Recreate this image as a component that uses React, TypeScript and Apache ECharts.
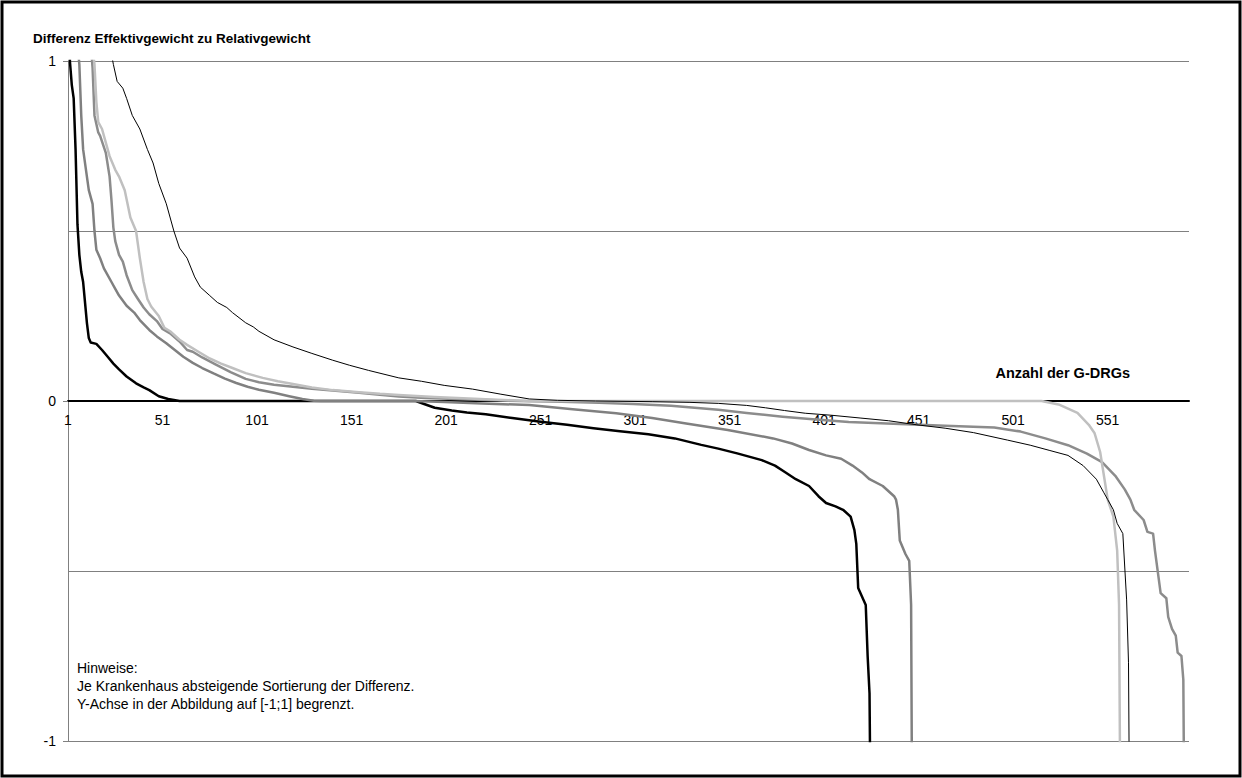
import { useEffect, useRef } from 'react';
import * as echarts from 'echarts';

// Rank of the G-DRG (1-based) on the x axis, difference on the y axis
const RANK_COUNT = 594;
const X_LABEL_STEP = 50;
const Y_MIN = -1;
const Y_MAX = 1;

const TITLE = 'Differenz Effektivgewicht zu Relativgewicht';
const X_NAME = 'Anzahl der G-DRGs';
const NOTES = [
  'Hinweise:',
  'Je Krankenhaus absteigende Sortierung der Differenz.',
  'Y-Achse in der Abbildung auf [-1;1] begrenzt.',
];

// [rank, difference]
const HOSPITAL_A: [number, number][] = [
  [1, 3.0], [2, 1.0], [3, 0.93], [4, 0.89], [5, 0.74], [6, 0.52], [7, 0.43], [8, 0.38],
  [9, 0.35], [10, 0.29], [11, 0.23], [12, 0.185], [13, 0.172], [16, 0.168], [19, 0.15],
  [22, 0.13], [25, 0.11], [28, 0.093], [32, 0.072], [37, 0.052], [41, 0.04], [44, 0.032],
  [49, 0.014], [54, 0.006], [60, 0.0], [185, 0.0], [189, -0.008], [195, -0.02], [204, -0.028],
  [212, -0.034], [222, -0.039], [236, -0.05], [251, -0.061], [265, -0.07], [279, -0.08],
  [293, -0.089], [308, -0.098], [322, -0.11], [336, -0.129], [345, -0.14], [355, -0.154],
  [368, -0.174], [375, -0.19], [380, -0.208], [386, -0.23], [393, -0.25], [398, -0.28],
  [402, -0.3], [407, -0.31], [411, -0.32], [415, -0.34], [417, -0.38], [418, -0.42],
  [419, -0.55], [421, -0.575], [423, -0.6], [424, -0.75], [425, -0.86], [426, -1.5],
];

const HOSPITAL_B: [number, number][] = [
  [1, 4.0], [6, 1.05], [7, 0.99], [8, 0.84], [9, 0.74], [11, 0.66], [12, 0.62], [14, 0.58],
  [15, 0.5], [16, 0.445], [18, 0.42], [20, 0.39], [24, 0.35], [26, 0.33], [28, 0.31],
  [32, 0.28], [36, 0.26], [39, 0.238], [44, 0.209], [48, 0.19], [53, 0.17], [57, 0.152],
  [62, 0.13], [67, 0.112], [72, 0.097], [78, 0.081], [84, 0.066], [90, 0.053], [96, 0.042],
  [102, 0.033], [110, 0.024], [118, 0.014], [125, 0.006], [131, 0.001], [135, 0.0],
  [184, 0.0], [200, -0.003], [220, -0.007], [245, -0.012], [268, -0.024], [291, -0.036],
  [310, -0.05], [328, -0.066], [350, -0.085], [374, -0.11], [384, -0.125], [393, -0.144],
  [402, -0.16], [410, -0.17], [416, -0.19], [421, -0.21], [425, -0.23], [432, -0.25],
  [438, -0.28], [439, -0.29], [440, -0.32], [441, -0.41], [444, -0.45], [446, -0.47],
  [447, -0.6], [448, -1.8],
];

const HOSPITAL_C: [number, number][] = [
  [1, 4.0], [13, 1.05], [14, 0.98], [15, 0.84], [17, 0.79], [18, 0.78], [21, 0.73],
  [23, 0.66], [24, 0.59], [25, 0.51], [26, 0.47], [28, 0.43], [30, 0.41], [32, 0.37],
  [35, 0.326], [38, 0.3], [41, 0.275], [44, 0.255], [48, 0.235], [51, 0.212], [55, 0.199],
  [60, 0.175], [64, 0.15], [67, 0.145], [72, 0.128], [79, 0.108], [87, 0.085], [95, 0.065],
  [102, 0.055], [110, 0.048], [120, 0.042], [130, 0.036], [141, 0.031], [155, 0.024],
  [166, 0.018], [176, 0.013], [190, 0.009], [210, 0.005], [228, 0.002], [240, 0.0],
  [262, -0.002], [282, -0.005], [300, -0.009], [320, -0.014], [345, -0.026], [360, -0.035],
  [379, -0.046], [395, -0.054], [414, -0.062], [441, -0.068], [465, -0.073], [491, -0.078],
  [505, -0.09], [518, -0.11], [530, -0.13], [540, -0.155], [548, -0.18], [555, -0.22],
  [560, -0.26], [563, -0.29], [565, -0.32], [570, -0.35], [572, -0.385], [575, -0.39],
  [576, -0.44], [579, -0.565], [582, -0.58], [583, -0.635], [585, -0.67], [587, -0.69],
  [588, -0.74], [590, -0.75], [591, -0.82], [592, -1.6],
];

const HOSPITAL_D: [number, number][] = [
  [1, 4.0], [14, 1.04], [15, 0.99], [16, 0.88], [17, 0.82], [19, 0.8], [21, 0.76],
  [23, 0.72], [26, 0.68], [28, 0.66], [31, 0.62], [34, 0.54], [37, 0.5], [39, 0.42],
  [41, 0.35], [43, 0.3], [45, 0.278], [49, 0.25], [52, 0.215], [55, 0.205], [60, 0.18],
  [64, 0.165], [70, 0.145], [76, 0.125], [82, 0.11], [88, 0.097], [95, 0.082], [104, 0.068],
  [112, 0.058], [120, 0.05], [130, 0.04], [141, 0.032], [155, 0.026], [166, 0.021],
  [176, 0.018], [195, 0.012], [210, 0.008], [228, 0.004], [245, 0.0], [516, 0.0],
  [525, -0.01], [535, -0.035], [541, -0.07], [544, -0.094], [547, -0.15], [549, -0.22],
  [551, -0.29], [554, -0.34], [556, -0.44], [557, -0.6], [558, -1.5],
];

const HOSPITAL_E: [number, number][] = [
  [1, 6.0], [20, 1.25], [24, 1.02], [25, 0.99], [27, 0.94], [30, 0.92], [32, 0.89],
  [35, 0.84], [39, 0.8], [43, 0.74], [46, 0.7], [49, 0.64], [53, 0.58], [57, 0.5],
  [60, 0.45], [64, 0.42], [68, 0.365], [71, 0.335], [76, 0.31], [80, 0.29], [85, 0.275],
  [88, 0.26], [95, 0.23], [99, 0.218], [102, 0.205], [110, 0.18], [120, 0.159], [130, 0.14],
  [141, 0.12], [150, 0.105], [160, 0.09], [176, 0.068], [188, 0.058], [200, 0.046],
  [215, 0.035], [230, 0.02], [245, 0.006], [260, 0.002], [280, 0.0], [310, -0.002],
  [330, -0.004], [345, -0.007], [360, -0.013], [370, -0.02], [380, -0.028], [391, -0.036],
  [405, -0.042], [420, -0.05], [435, -0.058], [450, -0.07], [465, -0.08], [480, -0.093],
  [498, -0.115], [510, -0.13], [520, -0.145], [530, -0.16], [538, -0.19], [545, -0.23],
  [549, -0.27], [551, -0.29], [554, -0.32], [556, -0.36], [559, -0.39], [561, -0.585],
  [562, -0.77], [563, -1.6],
];

const FONT = '"Liberation Sans", Arial, Helvetica, sans-serif';

const toZeroBased = (pts: [number, number][]) => pts.map(([r, v]) => [r - 1, v]);

export default function App() {
  const ref = useRef<HTMLDivElement>(null);

  useEffect(() => {
    if (!ref.current) return;
    const chart = echarts.init(ref.current, null, { renderer: 'svg' });

    const gridTop = 61;
    const gridBottom = 37;
    const plotHeight = 778 - gridTop - gridBottom;
    // distance from the bottom of the plot to the value 0
    const zeroOffset = (plotHeight * (0 - Y_MIN)) / (Y_MAX - Y_MIN);

    const line = (name: string, pts: [number, number][], color: string, width: number) => ({
      name,
      type: 'line',
      data: toZeroBased(pts),
      showSymbol: false,
      symbol: 'none',
      clip: true,
      lineStyle: { color, width, cap: 'butt', join: 'round' },
      emphasis: { disabled: true },
    });

    chart.setOption({
      animation: false,
      backgroundColor: '#ffffff',
      textStyle: { fontFamily: FONT },
      grid: { left: 68, right: 53, top: gridTop, bottom: gridBottom, containLabel: false },
      xAxis: {
        type: 'value',
        min: 0,
        max: RANK_COUNT - 1,
        interval: X_LABEL_STEP,
        offset: -zeroOffset,
        axisLine: { onZero: false, lineStyle: { color: '#000', width: 2 } },
        axisTick: { show: false },
        splitLine: { show: false },
        axisLabel: {
          color: '#000',
          fontSize: 14,
          fontFamily: FONT,
          margin: 12,
          showMaxLabel: false,
          formatter: (v: number) => (v % X_LABEL_STEP === 0 ? String(v + 1) : ''),
        },
      },
      yAxis: {
        type: 'value',
        min: Y_MIN,
        max: Y_MAX,
        interval: 1,
        axisLine: { show: true, lineStyle: { color: '#808080', width: 1 } },
        axisTick: { show: true, length: 5, lineStyle: { color: '#808080' } },
        minorTick: { show: false, splitNumber: 2 },
        splitLine: { show: true, lineStyle: { color: '#808080', width: 1 } },
        minorSplitLine: { show: true, lineStyle: { color: '#808080', width: 1 } },
        axisLabel: { color: '#000', fontSize: 14, fontFamily: FONT, margin: 12 },
      },
      graphic: [
        {
          type: 'rect',
          shape: { x: 2, y: 2, width: 1238, height: 774 },
          style: { fill: 'none', stroke: '#000', lineWidth: 3 },
          silent: true,
        },
        {
          type: 'text',
          x: 33,
          y: 38,
          style: {
            text: TITLE,
            font: `bold 13.5px ${FONT}`,
            fill: '#000',
            textVerticalAlign: 'middle',
          },
        },
        {
          type: 'text',
          x: 1130,
          y: 373,
          style: {
            text: X_NAME,
            font: `bold 14.5px ${FONT}`,
            fill: '#000',
            textAlign: 'right',
            textVerticalAlign: 'middle',
          },
        },
        {
          type: 'text',
          x: 77,
          y: 659,
          style: {
            text: NOTES.join('\n'),
            font: `14px ${FONT}`,
            lineHeight: 18,
            fill: '#000',
            textVerticalAlign: 'top',
          },
        },
      ],
      series: [
        line('Krankenhaus A', HOSPITAL_A, '#000000', 2.5),
        line('Krankenhaus B', HOSPITAL_B, '#808080', 2.5),
        line('Krankenhaus C', HOSPITAL_C, '#8c8c8c', 2.5),
        line('Krankenhaus D', HOSPITAL_D, '#c0c0c0', 2.5),
        line('Krankenhaus E', HOSPITAL_E, '#000000', 1),
      ],
    });

    return () => chart.dispose();
  }, []);

  return (
    <div
      ref={ref}
      style={{ position: 'fixed', left: 0, top: 0, width: 1242, height: 778, background: '#fff' }}
    />
  );
}
